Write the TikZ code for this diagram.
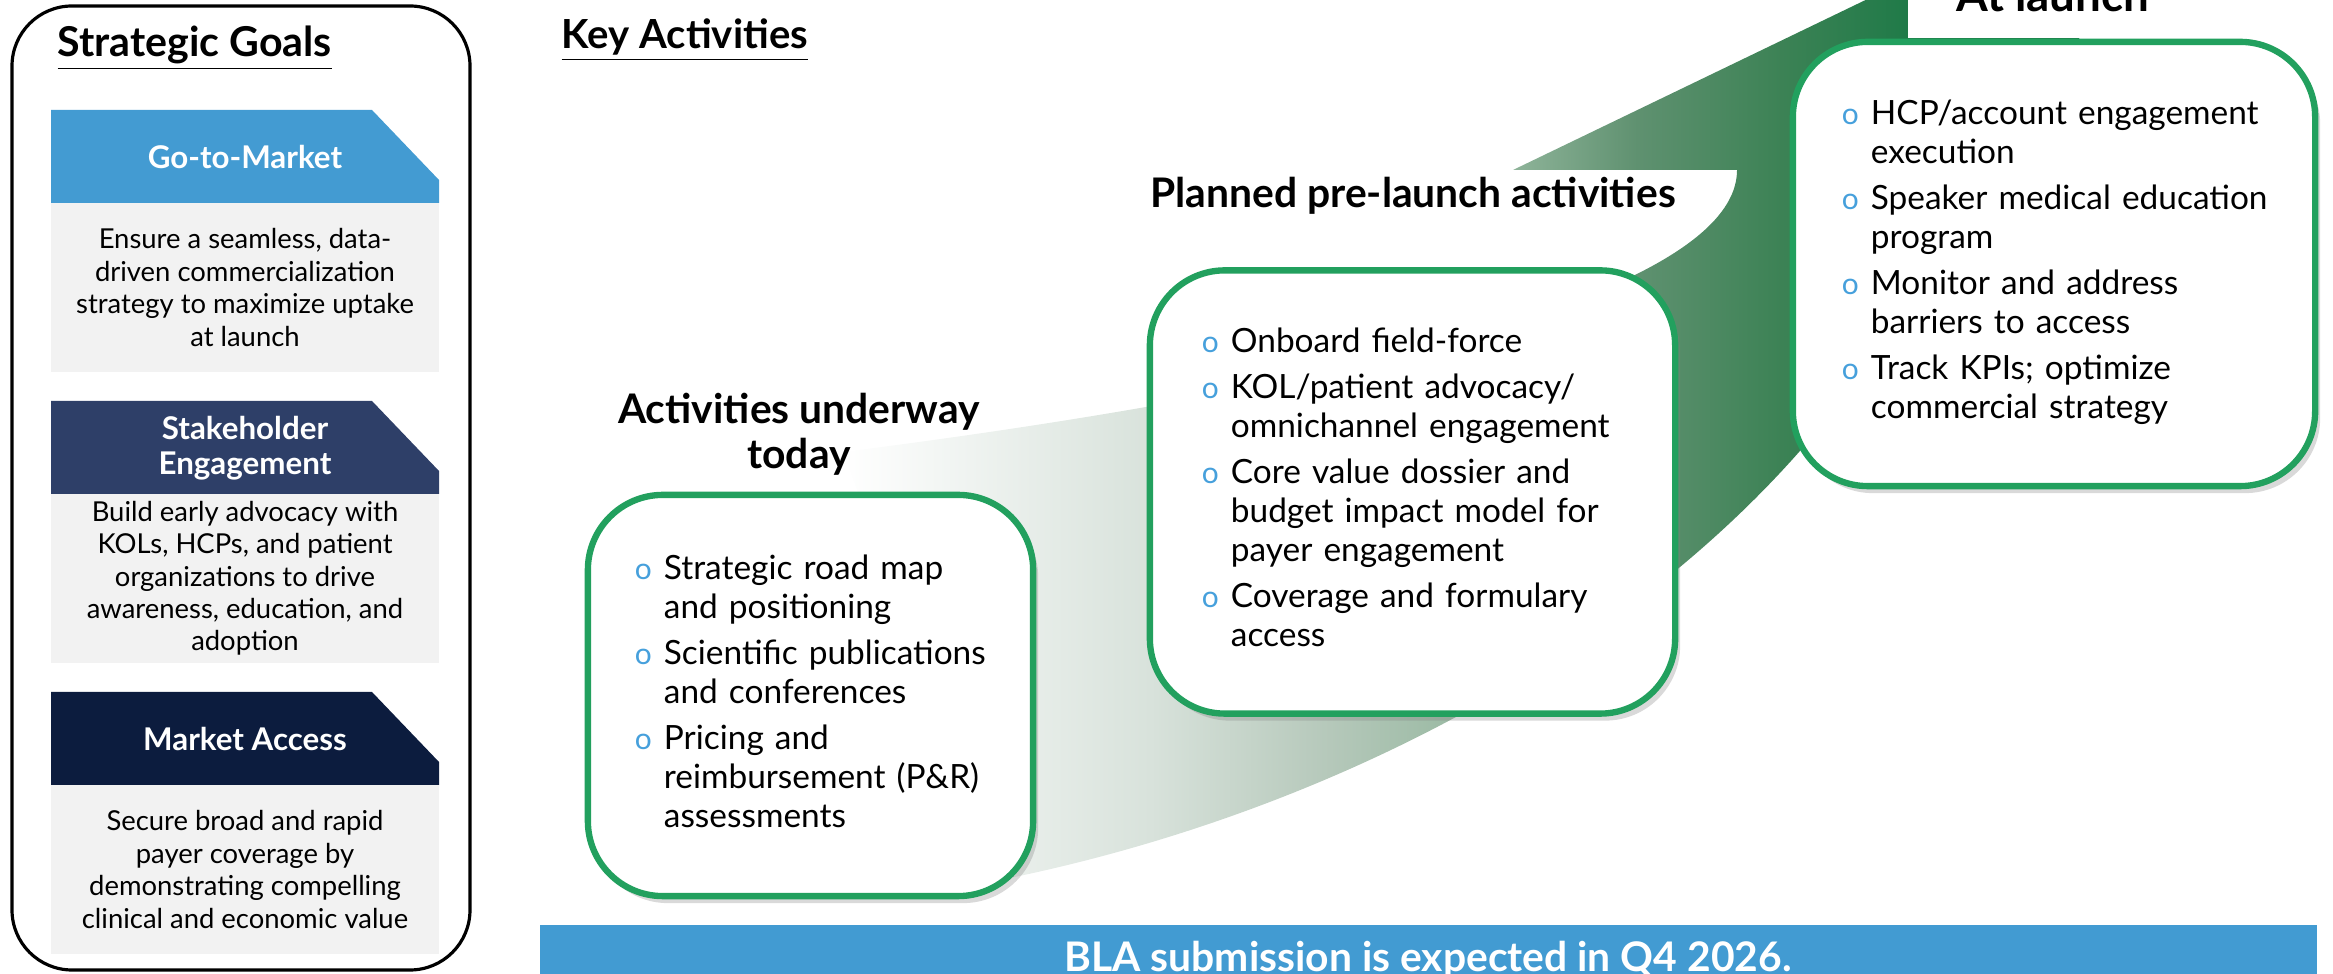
\documentclass[tikz,border=0pt]{standalone}
\usepackage{fontspec}
\setmainfont{Lato}
\usetikzlibrary{shadows}

\definecolor{goalgray}{RGB}{242,242,242}
\definecolor{gtmblue}{RGB}{67,155,210}
\definecolor{seblue}{RGB}{46,63,104}
\definecolor{manavy}{RGB}{12,28,62}
\definecolor{boxgreen}{RGB}{34,160,94}
\definecolor{dotblue}{RGB}{70,160,220}
\definecolor{bannerblue}{RGB}{66,155,210}
\definecolor{swA}{RGB}{216,226,219}
\definecolor{swB}{RGB}{181,200,186}
\definecolor{swC}{RGB}{143,180,154}
\definecolor{swD}{RGB}{95,145,112}
\definecolor{swE}{RGB}{60,130,85}
\definecolor{swF}{RGB}{31,122,72}
\pgfdeclarehorizontalshading{swoosh}{100bp}{color(0bp)=(white); color(25bp)=(white);
 color(36.5bp)=(swA); color(43.2bp)=(swB); color(50bp)=(swC); color(54.7bp)=(swD);
 color(60.1bp)=(swE); color(64.9bp)=(swF); color(100bp)=(swF)}

\newcommand\bul{\textcolor{dotblue}{\fontsize{8.5}{8}\selectfont o}}

\begin{document}
\begin{tikzpicture}[x=0.01cm,y=-0.01cm,
 goalhead/.style={text=white, font=\fontsize{8.9}{10}\selectfont\bfseries, align=center},
 goalbody/.style={font=\fontsize{7.8}{9.2}\selectfont, align=center},
 actbox/.style={draw=boxgreen, line width=1.8pt, fill=white, rounded corners=0.75cm,
  drop shadow={shadow xshift=0.05cm, shadow yshift=-0.07cm, opacity=0.3},
  align=left, font=\fontsize{9.5}{11.1}\selectfont, inner sep=0pt},
 acttitle/.style={font=\fontsize{11.6}{12.7}\selectfont\bfseries, align=center}]

\useasboundingbox (0,0) rectangle (2333,974);
\clip (0,0) rectangle (2333,974);

 % goals panel
 \draw[line width=0.9pt, rounded corners=0.6cm] (12,6) rectangle (470,970);
 \node[font=\fontsize{11.7}{13}\selectfont\bfseries, anchor=west, inner sep=0pt] (goals) at (57,48) {\underline{Strategic Goals}};

 \foreach \i/\col/\head/\body in {
  0/gtmblue/{Go-to-Market}/{Ensure a seamless, data-\\driven commercialization\\strategy to maximize uptake\\at launch},
  1/seblue/{Stakeholder\\Engagement}/{Build early advocacy with\\KOLs, HCPs, and patient\\organizations to drive\\awareness, education, and\\adoption},
  2/manavy/{Market Access}/{Secure broad and rapid\\payer coverage by\\demonstrating compelling\\clinical and economic value}} {
  \fill[\col] (51,{110+291*\i}) -- ++(321,0) -- ++(67,70) -- ++(0,23) -- ++(-388,0) -- cycle;
  \node[goalhead] (head\i) at (245,{157+291*\i}) {\head};
  \fill[goalgray] (51,{203+291*\i}) rectangle ++(388,169);
  \node[goalbody] (body\i) at (245,{287.5+291*\i}) {\body};
 }

 % key activities
 \node[font=\fontsize{11.4}{13}\selectfont\bfseries, anchor=west, inner sep=0pt] (keyact) at (561,40) {\underline{Key Activities}};

 \shade[shading=swoosh] (843,452) .. controls (1300,394) and (1737,300) .. (1737,170)
  -- (1513,170) -- (1990,-60) -- (2180,150) -- (1960,190)
  .. controls (1820,560) and (1400,800) .. (1000,880) -- cycle;

 \node[acttitle] (todaytitle) at (799,434) {Activities underway\\today};
 \node[acttitle] (pretitle) at (1413,196) {Planned pre-launch activities};
 \node[acttitle, font=\fontsize{13}{14}\selectfont\bfseries, fill=white, minimum width=2.9cm, minimum height=0.86cm] (launchtitle) at (2053,-5) {At launch};

 \node[actbox, minimum width=4.45cm, minimum height=4.01cm, text width=3.51cm] (today) at (810.5,695.5) {%
  \begin{tabular}{@{}p{0.29cm}@{}l@{}}
  \bul & Strategic road map\\
   & and positioning\\[2pt]
  \bul & Scientific publications\\
   & and conferences\\[2pt]
  \bul & Pricing and\\
   & reimbursement (P\&R)\\
   & assessments
  \end{tabular}};

 \node[actbox, minimum width=5.25cm, minimum height=4.43cm, text width=4.21cm] (prelaunch) at (1412.5,492) {%
  \begin{tabular}{@{}p{0.29cm}@{}l@{}}
  \bul & Onboard field-force\\[2pt]
  \bul & KOL/patient advocacy/\\
   & omnichannel engagement\\[2pt]
  \bul & Core value dossier and\\
   & budget impact model for\\
   & payer engagement\\[2pt]
  \bul & Coverage and formulary\\
   & access
  \end{tabular}};

 \node[actbox, minimum width=5.22cm, minimum height=4.44cm, text width=4.24cm] (launch) at (2054,264) {%
  \begin{tabular}{@{}p{0.29cm}@{}l@{}}
  \bul & HCP/account engagement\\
   & execution\\[2pt]
  \bul & Speaker medical education\\
   & program\\[2pt]
  \bul & Monitor and address\\
   & barriers to access\\[2pt]
  \bul & Track KPIs; optimize\\
   & commercial strategy
  \end{tabular}};

 % banner
 \fill[bannerblue] (540,925) rectangle (2317,990);
 \node[font=\fontsize{11.6}{14}\selectfont\bfseries, text=white, anchor=base] (bla) at (1428,972) {BLA submission is expected in Q4 2026.};

\end{tikzpicture}
\end{document}
